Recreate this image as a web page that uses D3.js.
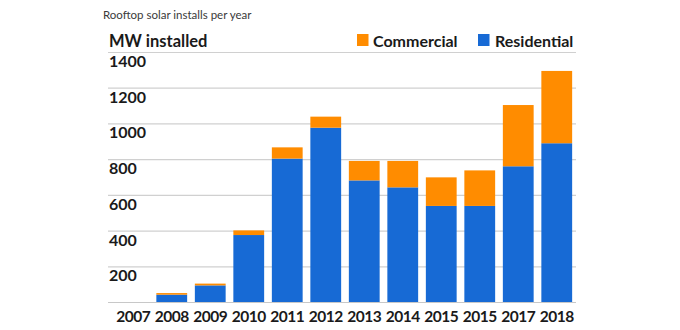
<!DOCTYPE html>
<html><head><meta charset="utf-8">
<script src="https://cdn.jsdelivr.net/npm/d3@7"></script>
<style>
html,body{margin:0;padding:0;background:#fff;}
svg{display:block;font-family:Lato,"Open Sans",sans-serif;}
</style></head>
<body>
<svg id="chart" width="680" height="330"></svg>
<script>
const years = ["2007","2008","2009","2010","2011","2012","2013","2014","2015","2015","2017","2018"];
const residential = [0, 41, 93, 375, 803, 976, 681, 642, 538, 538, 760, 889];
const commercial  = [0, 9, 10, 26, 63, 62, 109, 148, 160, 199, 343, 405];
const yTicks = [200, 400, 600, 800, 1000, 1200, 1400];
const seriesNames = ["Commercial", "Residential"];
const colors = {Commercial: "#ff8c00", Residential: "#176ad5"};

(function () {
const svg = d3.select("#chart");
const plotLeft = 108, plotRight = 576, plotTop = 52, plotBottom = 302;

const x = d3.scaleBand().domain(d3.range(years.length)).range([114, 576])
  .paddingInner(0.2).paddingOuter(0.1);
const y = d3.scaleLinear().domain([0, 1400]).range([plotBottom, plotTop]);

// gridlines
svg.append("g").selectAll("line").data(yTicks).join("line")
  .attr("x1", plotLeft).attr("x2", plotRight)
  .attr("y1", d => y(d) + 0.5).attr("y2", d => y(d) + 0.5)
  .attr("stroke", "#d0d0d0").attr("stroke-width", 1.2);

// tick labels (below lines)
svg.append("g").selectAll("text").data(yTicks).join("text")
  .attr("x", plotLeft + 1).attr("y", d => y(d) + 15)
  .attr("font-size", 16).attr("font-weight", 700).attr("fill", "#1a1a1a")
  .text(d => d);

// stacked bars
const rows = years.map((yr, i) => ({i, Residential: residential[i], Commercial: commercial[i]}));
const stack = d3.stack().keys(["Residential", "Commercial"])(rows);
svg.append("g").selectAll("g").data(stack).join("g")
  .attr("fill", s => colors[s.key])
  .selectAll("rect").data(s => s).join("rect")
  .attr("x", d => x(d.data.i)).attr("width", x.bandwidth())
  .attr("y", d => y(d[1])).attr("height", d => y(d[0]) - y(d[1]));

// baseline
svg.append("line").attr("x1", plotLeft).attr("x2", plotRight)
  .attr("y1", plotBottom + 0.5).attr("y2", plotBottom + 0.5)
  .attr("stroke", "#c8c8c8").attr("stroke-width", 1.2);

// x labels
svg.append("g").selectAll("text").data(years).join("text")
  .attr("x", (d, i) => x(i) + x.bandwidth() / 2).attr("y", 321.5)
  .attr("text-anchor", "middle").attr("font-size", 15.5).attr("font-weight", 700)
  .attr("letter-spacing", -0.5).attr("fill", "#1a1a1a")
  .text(d => d);

// titles
svg.append("text").attr("x", 103).attr("y", 19).attr("font-size", 11.5)
  .attr("fill", "#3a3a3a").text("Rooftop solar installs per year");
svg.append("text").attr("x", 109).attr("y", 47).attr("font-size", 16.5)
  .attr("font-weight", 700).attr("fill", "#1a1a1a").text("MW installed");

// legend
const legendPos = [{name: "Commercial", sx: 357, tx: 373}, {name: "Residential", sx: 478, tx: 495}];
const lg = svg.append("g");
legendPos.forEach(p => {
  lg.append("rect").attr("x", p.sx).attr("y", 34).attr("width", 11.5).attr("height", 12)
    .attr("fill", colors[p.name]);
  lg.append("text").attr("x", p.tx).attr("y", 46.5).attr("font-size", 16)
    .attr("font-weight", 700).attr("fill", "#1a1a1a").text(p.name);
});
})();
</script>
</body></html>
